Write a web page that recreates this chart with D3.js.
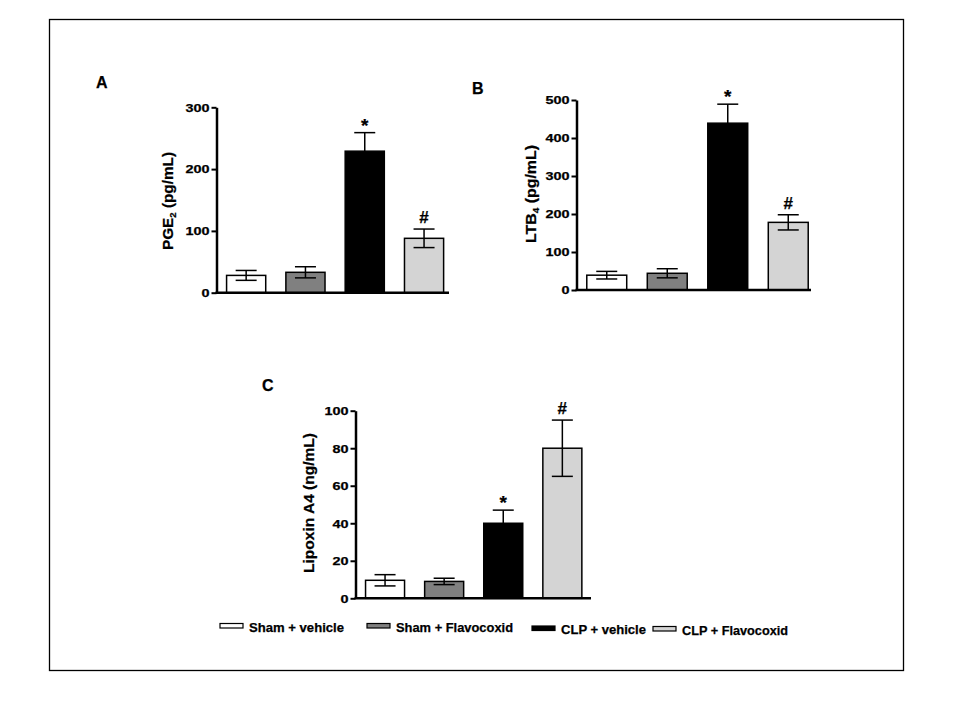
<!DOCTYPE html>
<html><head><meta charset="utf-8">
<script src="https://cdn.jsdelivr.net/npm/d3@7"></script>
<style>
body{margin:0;background:#fff;}
svg text{font-family:Arial,"Liberation Sans",sans-serif;font-weight:bold;fill:#000;stroke:#000;stroke-width:0.25px;}
</style></head>
<body>
<script>
// ---- data ----
const categories = ["Sham + vehicle", "Sham + Flavocoxid", "CLP + vehicle", "CLP + Flavocoxid"];
const barColors = ["#ffffff", "#808080", "#000000", "#d4d4d4"];
const pge2Mean = [28, 33, 229, 88];
const pge2Err = [8, 9, 30, 15];
const pge2Ticks = [0, 100, 200, 300];
const ltb4Mean = [39, 44, 439, 178];
const ltb4Err = [10, 12, 50, 20];
const ltb4Ticks = [0, 100, 200, 300, 400, 500];
const lipoxinMean = [9.6, 9, 40, 80];
const lipoxinErr = [3, 1.7, 7, 15];
const lipoxinTicks = [0, 20, 40, 60, 80, 100];
const signifMarks = ["", "", "*", "#"];

const W = 960, H = 720;
const svg = d3.select("body").append("svg").attr("width", W).attr("height", H);
svg.append("rect").attr("x", 49.5).attr("y", 19.5).attr("width", 854).attr("height", 651)
  .attr("fill", "none").attr("stroke", "#000").attr("stroke-width", 1.3);

const panels = [
  {letter: "A", lx: 96, ly: 88, mean: pge2Mean, err: pge2Err, ticks: pge2Ticks,
   ax: 216.5, y0: 292.7, y1: 107.3, step: 59.3, xEnd: 449, titleX: 173, titleY: 201, title: ["PGE", "2", " (pg/mL)"], titleLen: 98},
  {letter: "B", lx: 472, ly: 94, mean: ltb4Mean, err: ltb4Err, ticks: ltb4Ticks,
   ax: 576.5, y0: 290, y1: 100, step: 60.5, xEnd: 811, titleX: 536, titleY: 194, title: ["LTB", "4", " (pg/mL)"], titleLen: 98},
  {letter: "C", lx: 262, ly: 391, mean: lipoxinMean, err: lipoxinErr, ticks: lipoxinTicks,
   ax: 355.5, y0: 598.3, y1: 410.7, step: 59.1, xEnd: 591, titleX: 314, titleY: 503, title: ["Lipoxin A4 (ng/mL)"], titleLen: 140}
];

panels.forEach(p => {
  const g = svg.append("g");
  const y = d3.scaleLinear().domain([0, d3.max(p.ticks)]).range([p.y0, p.y1]);
  const x = d3.scaleBand().domain(categories)
    .range([p.ax, p.ax + 4 * p.step]).paddingInner(0.34).paddingOuter(0.17);

  // panel letter
  g.append("text").attr("x", p.lx).attr("y", p.ly).attr("font-size", 16).text(p.letter);

  // bars
  g.selectAll("rect.bar").data(categories).enter().append("rect")
    .attr("x", d => x(d)).attr("width", x.bandwidth())
    .attr("y", (d, i) => y(p.mean[i])).attr("height", (d, i) => y(0) - y(p.mean[i]))
    .attr("fill", (d, i) => barColors[i]).attr("stroke", "#000").attr("stroke-width", 1.5);

  // error bars
  const cap = 10.5;
  categories.forEach((c, i) => {
    const cx = x(c) + x.bandwidth() / 2;
    const hi = y(p.mean[i] + p.err[i]), lo = y(p.mean[i] - p.err[i]);
    g.append("line").attr("x1", cx).attr("x2", cx).attr("y1", hi).attr("y2", lo)
      .attr("stroke", "#000").attr("stroke-width", 1.5);
    [hi, lo].forEach(yy => g.append("line").attr("x1", cx - cap).attr("x2", cx + cap)
      .attr("y1", yy).attr("y2", yy).attr("stroke", "#000").attr("stroke-width", 1.5));
    if (signifMarks[i]) {
      const isStar = signifMarks[i] === "*";
      g.append("text").attr("x", cx).attr("y", hi - (isStar ? 1 : 6))
        .attr("text-anchor", "middle").attr("font-size", isStar ? 19 : 17)
        .attr("stroke-width", 0.6)
        .text(signifMarks[i]);
    }
  });

  // y axis
  const yAxis = d3.axisLeft(y).tickValues(p.ticks).tickSize(5).tickPadding(2).tickSizeOuter(0);
  const ya = g.append("g").attr("transform", `translate(${p.ax},0)`).call(yAxis);
  ya.select(".domain").attr("stroke-width", 2.5);
  ya.selectAll(".tick line").attr("stroke-width", 2);
  ya.selectAll(".tick text").attr("font-size", 10.5).attr("font-family", "Arial, 'Liberation Sans', sans-serif")
    .attr("font-weight", "bold").attr("dy", "0.36em").attr("stroke", "#000").attr("stroke-width", 0.3)
    .each(function(d) {
      const n = String(d).length;
      d3.select(this).attr("textLength", n * 8).attr("lengthAdjust", "spacingAndGlyphs");
    });

  // x axis baseline
  g.append("line").attr("x1", p.ax - 1).attr("x2", p.xEnd).attr("y1", y(0)).attr("y2", y(0))
    .attr("stroke", "#000").attr("stroke-width", 2.5);

  // y title
  const t = g.append("text").attr("transform", `translate(${p.titleX},${p.titleY}) rotate(-90)`)
    .attr("text-anchor", "middle").attr("font-size", 14.5)
    .attr("textLength", p.titleLen).attr("lengthAdjust", "spacingAndGlyphs");
  if (p.title.length === 3) {
    t.append("tspan").text(p.title[0]);
    t.append("tspan").attr("font-size", 9).attr("dy", 3).text(p.title[1]);
    t.append("tspan").attr("dy", -3).text(p.title[2]);
  } else {
    t.text(p.title[0]);
  }
});

// legend
const legendBoxX = [220, 367, 532, 653];
const legendTextLen = [95, 117, 85, 106];
const legendDy = [0, 0, 2.5, 3];
const lg = svg.append("g");
categories.forEach((c, i) => {
  lg.append("rect").attr("x", legendBoxX[i]).attr("y", 623.5 + legendDy[i]).attr("width", 23).attr("height", 4.5)
    .attr("fill", barColors[i]).attr("stroke", "#000").attr("stroke-width", 1.2);
  lg.append("text").attr("x", legendBoxX[i] + 29).attr("y", 631.5 + legendDy[i])
    .attr("font-size", 13).attr("textLength", legendTextLen[i]).attr("lengthAdjust", "spacingAndGlyphs")
    .text(c);
});
</script>
</body></html>
